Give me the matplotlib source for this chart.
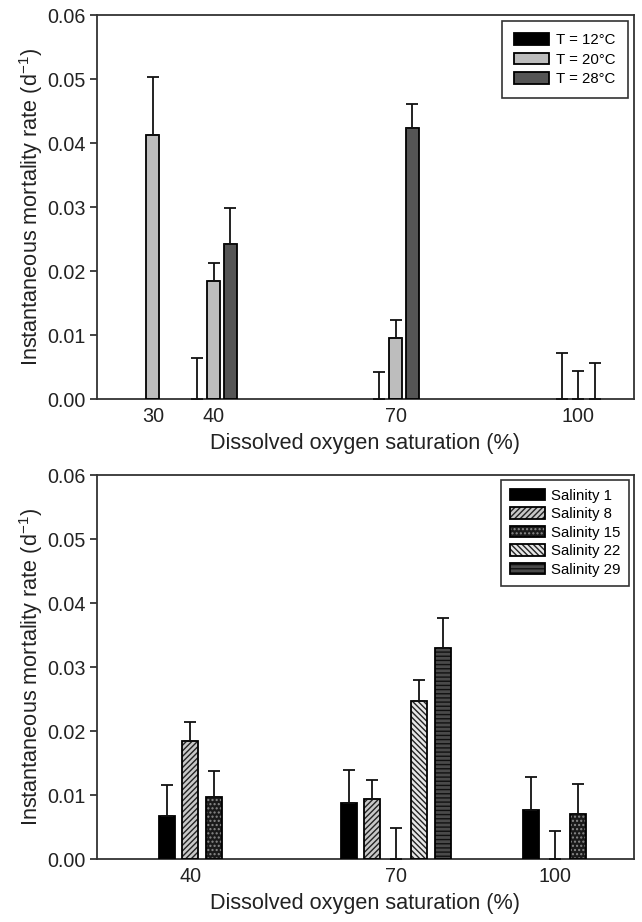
import numpy as np
import matplotlib
matplotlib.use("Agg")
import matplotlib.pyplot as plt
from matplotlib.patches import Patch
from matplotlib.legend_handler import HandlerTuple

plt.rcParams['font.family'] = ['Liberation Sans', 'DejaVu Sans']
plt.rcParams['mathtext.default'] = 'regular'
plt.rcParams['hatch.linewidth'] = 1.0

nan = np.nan

# ---------------- data: top panel (temperature) ----------------
oxygen_top = [30, 40, 70, 100]
temp_labels = ['T = 12°C', 'T = 20°C', 'T = 28°C']
mort_12 = [nan, 0.0, 0.0, 0.0]
se_12 = [nan, 0.0064, 0.0042, 0.0072]
mort_20 = [0.0413, 0.0184, 0.0095, 0.0]
se_20 = [0.0090, 0.0029, 0.0028, 0.0044]
mort_28 = [nan, 0.0242, 0.0423, 0.0]
se_28 = [nan, 0.0057, 0.0038, 0.0057]

# ---------------- data: bottom panel (salinity) ----------------
oxygen_bot = [40, 70, 100]
sal_labels = ['Salinity 1', 'Salinity 8', 'Salinity 15', 'Salinity 22', 'Salinity 29']
sal_1 = [0.0067, 0.0088, 0.0077]
se_s1 = [0.0048, 0.0051, 0.0051]
sal_8 = [0.0185, 0.0094, 0.0]
se_s8 = [0.0029, 0.0029, 0.0044]
sal_15 = [0.0097, 0.0, 0.0071]
se_s15 = [0.0041, 0.0048, 0.0047]
sal_22 = [nan, 0.0247, nan]
se_s22 = [nan, 0.0033, nan]
sal_29 = [nan, 0.0330, nan]
se_s29 = [nan, 0.0047, nan]

yticks = [0.00, 0.01, 0.02, 0.03, 0.04, 0.05, 0.06]
xlabel = 'Dissolved oxygen saturation (%)'
ylabel = 'Instantaneous mortality rate (d$^{-1}$)'

fig = plt.figure(figsize=(6.42, 9.22), dpi=100)
L, R = 0.151, 0.9875
ax1 = fig.add_axes([L, 0.5672, R - L, 0.9837 - 0.5672])
ax2 = fig.add_axes([L, 0.0683, R - L, 0.4848 - 0.0683])

TICK_FS = 14.2
LAB_FS = 15.6
LEG_FS = 10.8


def style_axes(ax):
    ax.set_xlim(20.8, 109.2)
    ax.set_ylim(0, 0.06)
    ax.set_yticks(yticks)
    ax.set_yticklabels([f'{v:.2f}' for v in yticks], fontsize=TICK_FS)
    ax.tick_params(axis='y', direction='out', length=5, width=1.2, colors='#222222', pad=3)
    ax.tick_params(axis='x', length=0, labelsize=TICK_FS, pad=6, colors='#222222')
    for sp in ax.spines.values():
        sp.set_linewidth(1.3)
        sp.set_color('#333333')
    ax.set_xlabel(xlabel, fontsize=LAB_FS, labelpad=5, color='#222222')
    ax.set_ylabel(ylabel, fontsize=LAB_FS, labelpad=2, color='#222222')


def draw_group(ax, xs, series, errs, styles, offset, width):
    n = len(series)
    centers = np.array(xs, dtype=float)
    handles = []
    positions = []
    for i, (vals, se, st) in enumerate(zip(series, errs, styles)):
        pos = centers + (i - (n - 1) / 2) * offset
        positions.append(pos)
        vals = np.array(vals, dtype=float)
        se = np.array(se, dtype=float)
        m = ~np.isnan(vals)
        b = m & (np.nan_to_num(vals) > 0)
        ax.bar(pos[b], vals[b], width=width, color=st['face'], edgecolor=st.get('hcolor', 'black'),
               hatch=st.get('hatch'), linewidth=0, zorder=2)
        ax.bar(pos[b], vals[b], width=width, facecolor='none', edgecolor='black',
               linewidth=1.3, zorder=3)
        ax.errorbar(pos[m], vals[m], yerr=[np.zeros(m.sum()), se[m]], fmt='none',
                    ecolor='#111111', elinewidth=1.3, capsize=4, capthick=1.3, zorder=4)
        h1 = Patch(facecolor=st['face'], edgecolor=st.get('hcolor', 'black'),
                   hatch=st.get('hatch'), linewidth=0)
        h2 = Patch(facecolor='none', edgecolor='black', linewidth=1.3)
        handles.append((h1, h2))
    positions = np.array(positions)
    present = ~np.isnan(np.array(series, dtype=float))
    ticks = [positions[present[:, j], j].mean() for j in range(len(xs))]
    ax.set_xticks(ticks)
    ax.set_xticklabels([str(x) for x in xs])
    return handles


leg_kw = dict(handler_map={tuple: HandlerTuple(ndivide=1, pad=0)},
              loc='upper right', fontsize=LEG_FS, frameon=True, fancybox=False,
              edgecolor='black', handlelength=2.35, handleheight=0.8)

# ----- top -----
style_axes(ax1)
top_styles = [dict(face='black'), dict(face='#bdbdbd'), dict(face='#555555')]
h_top = draw_group(ax1, oxygen_top, [mort_12, mort_20, mort_28], [se_12, se_20, se_28],
                   top_styles, offset=2.71, width=2.15)
leg1 = ax1.legend(h_top, temp_labels, labelspacing=0.38, borderpad=0.8,
                  handletextpad=0.5, borderaxespad=0.4, **leg_kw)
leg1.get_frame().set_linewidth(1.2)

# ----- bottom -----
style_axes(ax2)
bot_styles = [
    dict(face='black'),
    dict(face='#c8c8c8', hatch='//////', hcolor='#222222'),
    dict(face='#1a1a1a', hatch='....', hcolor='#8a8a8a'),
    dict(face='#e6e6e6', hatch='\\\\\\\\\\\\', hcolor='#222222'),
    dict(face='#4a4a4a', hatch='----', hcolor='#111111'),
]
h_bot = draw_group(ax2, oxygen_bot, [sal_1, sal_8, sal_15, sal_22, sal_29],
                   [se_s1, se_s8, se_s15, se_s22, se_s29], bot_styles, offset=3.87, width=2.65)
leg2 = ax2.legend(h_bot, sal_labels, labelspacing=0.3, borderpad=0.62,
                  handletextpad=0.35, borderaxespad=0.3, **leg_kw)
leg2.get_frame().set_linewidth(1.2)

fig.savefig('out.png', dpi=100)
